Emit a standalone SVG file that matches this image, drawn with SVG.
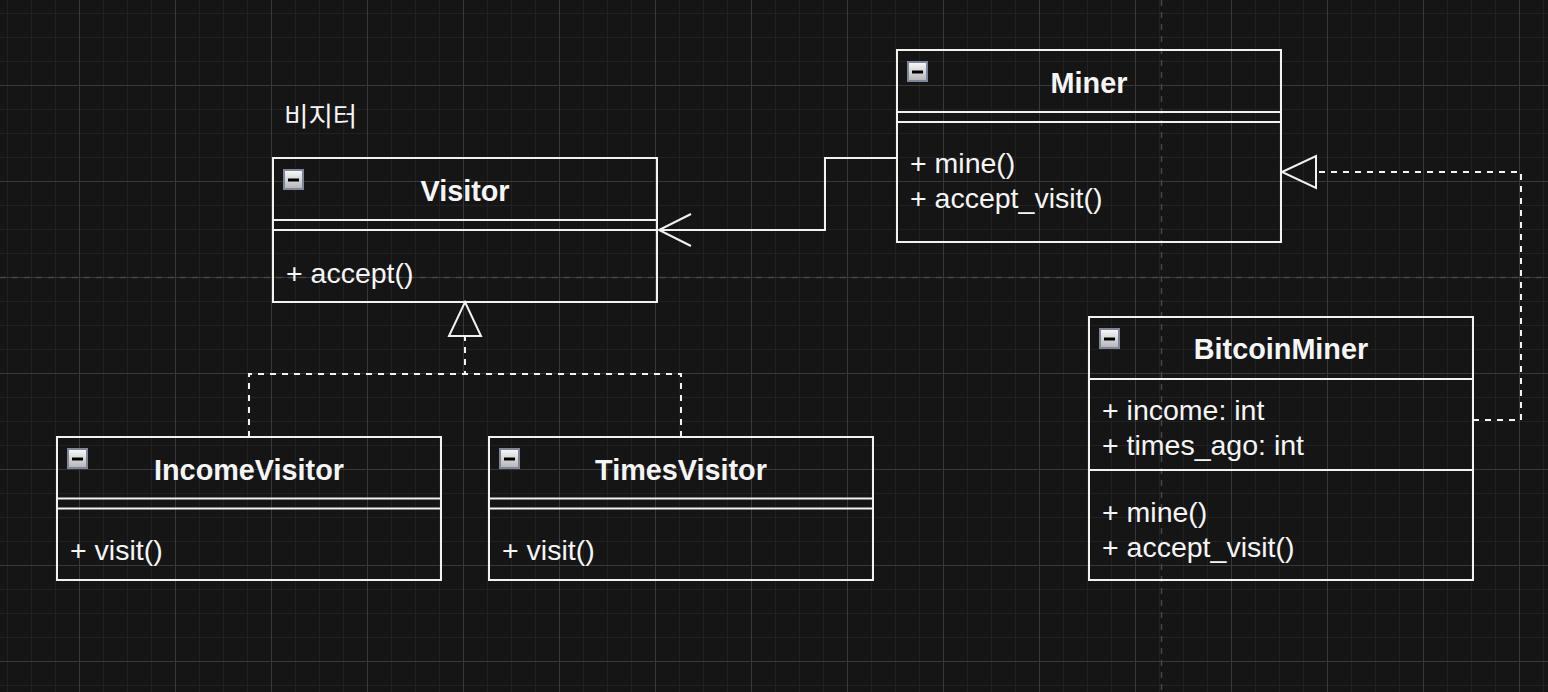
<svg xmlns="http://www.w3.org/2000/svg" xmlns:xlink="http://www.w3.org/1999/xlink" width="1548" height="692" viewBox="0 0 1548 692">
  <style>
    .box { fill: none; stroke: #f2f2f2; stroke-width: 2; }
    .div { stroke: #f2f2f2; stroke-width: 2; }
    .title { font-family: "Liberation Sans", Arial, sans-serif; font-size: 28.8px; font-weight: bold; fill: #f5f5f5; text-anchor: middle; }
    .member { font-family: "Liberation Sans", Arial, sans-serif; font-size: 28.5px; fill: #f5f5f5; }
    .label { font-family: "Noto Sans CJK KR", "Liberation Sans", sans-serif; font-size: 26.5px; fill: #f5f5f5; }
    .edge { fill: none; stroke: #f2f2f2; stroke-width: 2; }
    .dashed { stroke-dasharray: 6 6; }
    .page { fill: none; stroke: #464646; stroke-width: 1.5; stroke-dasharray: 6 6; }
  </style>
  <defs>
    <pattern id="minor" width="24" height="24" patternUnits="userSpaceOnUse" x="7" y="13">
      <path d="M0.5,0 V24 M0,0.5 H24" stroke="#212121" stroke-width="1" fill="none"/>
    </pattern>
    <pattern id="major" width="96" height="96" patternUnits="userSpaceOnUse" x="79" y="85">
      <path d="M0.5,0 V96 M0,0.5 H96" stroke="#383838" stroke-width="1" fill="none"/>
    </pattern>
    <linearGradient id="iconGrad" x1="0" y1="0" x2="0" y2="1">
      <stop offset="0" stop-color="#fafafa"/>
      <stop offset="1" stop-color="#b4b4b8"/>
    </linearGradient>
    <g id="icon">
      <rect x="1" y="1" width="19" height="19" fill="url(#iconGrad)" stroke="#80869a" stroke-width="2"/>
      <rect x="5" y="9.5" width="11" height="3" fill="#000"/>
    </g>
  </defs>

  <rect x="0" y="0" width="1548" height="692" fill="#151515"/>
  <rect x="0" y="0" width="1548" height="692" fill="url(#minor)"/>
  <rect x="0" y="0" width="1548" height="692" fill="url(#major)"/>
  <path class="page" d="M0,277.5 H1548 M1161.5,0 V692"/>

  <text class="label" x="284" y="126">비지터</text>

  <g id="connectors">
    <path class="edge" d="M897,158 H825 V230 H659"/>
    <path class="edge" d="M691,214 L659,230 L691,246"/>
    <path class="edge dashed" d="M249,437 V374 H465 V336"/>
    <path class="edge dashed" d="M681,437 V374 H465"/>
    <path class="edge" d="M465,302 L481,336 H449 Z" fill="#151515"/>
    <path class="edge dashed" d="M1473,420 H1521 V172 H1316"/>
    <path class="edge" d="M1282,172 L1316,156 V188 Z" fill="#151515"/>
  </g>

  <g id="node-visitor">
    <rect class="box" x="273" y="158" width="384" height="144"/>
    <line class="div" x1="273" y1="220" x2="657" y2="220"/>
    <line class="div" x1="273" y1="230" x2="657" y2="230"/>
    <use href="#icon" x="283" y="169"/>
    <text class="title" x="465" y="201">Visitor</text>
    <text class="member" x="286" y="283">+ accept()</text>
  </g>

  <g id="node-miner">
    <rect class="box" x="897" y="50" width="384" height="192"/>
    <line class="div" x1="897" y1="112" x2="1281" y2="112"/>
    <line class="div" x1="897" y1="122" x2="1281" y2="122"/>
    <use href="#icon" x="907" y="61"/>
    <text class="title" x="1089" y="93">Miner</text>
    <text class="member" x="910" y="173">+ mine()</text>
    <text class="member" x="910" y="208">+ accept_visit()</text>
  </g>

  <g id="node-incomevisitor">
    <rect class="box" x="57" y="437" width="384" height="143"/>
    <line class="div" x1="57" y1="498.5" x2="441" y2="498.5"/>
    <line class="div" x1="57" y1="508.5" x2="441" y2="508.5"/>
    <use href="#icon" x="67" y="448"/>
    <text class="title" x="249" y="480">IncomeVisitor</text>
    <text class="member" x="70" y="560">+ visit()</text>
  </g>

  <g id="node-timesvisitor">
    <rect class="box" x="489" y="437" width="384" height="143"/>
    <line class="div" x1="489" y1="498.5" x2="873" y2="498.5"/>
    <line class="div" x1="489" y1="508.5" x2="873" y2="508.5"/>
    <use href="#icon" x="499" y="448"/>
    <text class="title" x="681" y="480">TimesVisitor</text>
    <text class="member" x="502" y="560">+ visit()</text>
  </g>

  <g id="node-bitcoinminer">
    <rect class="box" x="1089" y="317" width="384" height="263"/>
    <line class="div" x1="1089" y1="379" x2="1473" y2="379"/>
    <line class="div" x1="1089" y1="470" x2="1473" y2="470"/>
    <use href="#icon" x="1099" y="328"/>
    <text class="title" x="1281" y="359">BitcoinMiner</text>
    <text class="member" x="1102" y="420">+ income: int</text>
    <text class="member" x="1102" y="455">+ times_ago: int</text>
    <text class="member" x="1102" y="522">+ mine()</text>
    <text class="member" x="1102" y="557">+ accept_visit()</text>
  </g>
</svg>
